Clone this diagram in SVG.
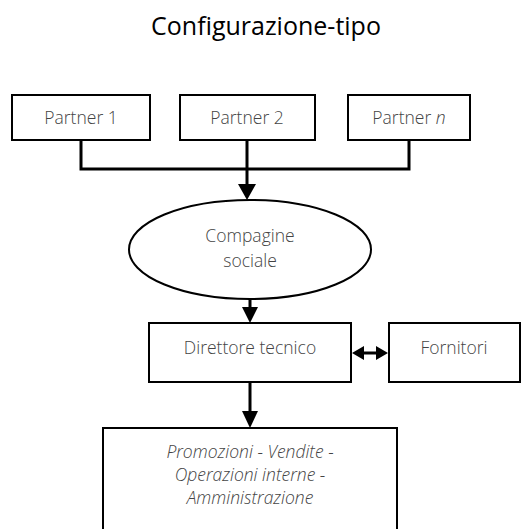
<svg xmlns="http://www.w3.org/2000/svg" width="527" height="529" viewBox="0 0 527 529">
<style>
.box{fill:#fff;stroke:#000;stroke-width:2}
.t{font-family:"Open Sans","Liberation Sans",sans-serif;font-weight:300;font-size:17.5px;fill:#444;text-anchor:middle}
.i{font-style:italic}
.ln{fill:none;stroke:#000;stroke-width:3}
.ah{fill:#000}
</style>
<rect width="527" height="529" fill="#fff"/>
<text x="266" y="35" style="font-family:'Open Sans','Liberation Sans',sans-serif;font-size:25px;text-anchor:middle;fill:#000">Configurazione-tipo</text>
<g id="connectors">
<path class="ln" d="M81 140V169H409V140M247 140V186"/>
<path class="ah" d="M238 184H256L247 200Z"/>
<path class="ln" d="M250 299V309"/>
<path class="ah" d="M242 307H258L250 323Z"/>
<path class="ln" d="M250 382V412"/>
<path class="ah" d="M242 411H258L250 428Z"/>
<path class="ln" d="M360 353H380"/>
<path class="ah" d="M352 353L364 346V360Z M388 353L376 346V360Z"/>
</g>
<g id="partner1"><rect class="box" x="12" y="95" width="138" height="45"/><text class="t" x="81" y="124">Partner 1</text></g>
<g id="partner2"><rect class="box" x="180" y="95" width="135" height="45"/><text class="t" x="247" y="124">Partner 2</text></g>
<g id="partnern"><rect class="box" x="348" y="95" width="122" height="45"/><text class="t" x="409" y="124">Partner <tspan class="i">n</tspan></text></g>
<g id="compagine"><ellipse class="box" cx="250" cy="249.5" rx="121" ry="49.5"/><text class="t" x="250" y="242">Compagine</text><text class="t" x="250" y="267">sociale</text></g>
<g id="direttore"><rect class="box" x="149" y="323" width="202" height="59"/><text class="t" x="250" y="354">Direttore tecnico</text></g>
<g id="fornitori"><rect class="box" x="389" y="323" width="131" height="59"/><text class="t" x="454" y="354">Fornitori</text></g>
<g id="funzioni"><rect class="box" x="103" y="428" width="294" height="120"/><text class="t i" x="250" y="458">Promozioni - Vendite -</text><text class="t i" x="250" y="481">Operazioni interne -</text><text class="t i" x="250" y="504">Amministrazione</text></g>
</svg>
